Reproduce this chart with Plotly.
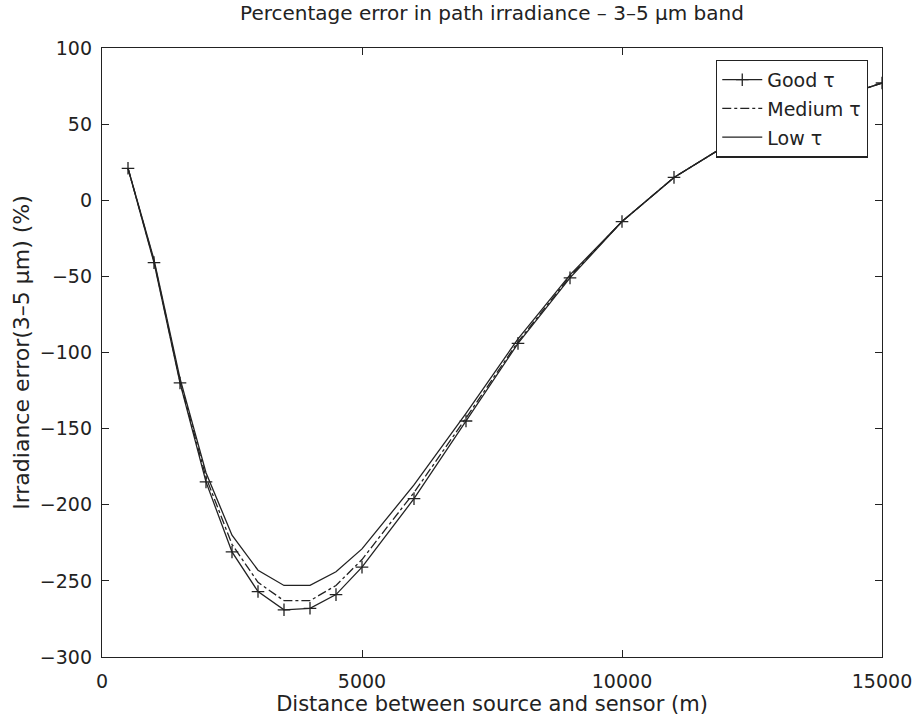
import plotly.graph_objects as go

distance = [500, 1000, 1500, 2000, 2500, 3000, 3500, 4000, 4500, 5000,
            6000, 7000, 8000, 9000, 10000, 11000, 12000, 13000, 14000, 15000]
good_tau = [21, -41, -120, -185, -231, -257, -269, -268, -259, -241,
            -196, -145, -94, -51, -14, 15, 36, 52, 66, 77]
medium_tau = [21, -40, -119, -182, -226, -251, -263, -263, -253, -236,
              -192, -143, -93, -50, -14, 15, 36, 52, 66, 77]
low_tau = [21, -39, -117, -179, -220, -243, -253, -253, -244, -229,
           -187, -140, -91, -49, -14, 15, 36, 52, 66, 77]

xticks = [0, 5000, 10000, 15000]
yticks = [-300, -250, -200, -150, -100, -50, 0, 50, 100]

ink = "#222222"
font = "DejaVu Sans, Liberation Sans, sans-serif"

fig = go.Figure()
fig.add_trace(go.Scatter(x=distance, y=good_tau, name="Good \u03c4",
                         legendgroup="g", mode="lines+markers",
                         line=dict(color=ink, width=1.3),
                         marker=dict(symbol="cross-thin", size=9,
                                     line=dict(color=ink, width=1.3))))
fig.add_trace(go.Scatter(x=distance, y=medium_tau, name="Medium \u03c4",
                         legendgroup="m", mode="lines",
                         line=dict(color=ink, width=1.3, dash="dashdot")))
fig.add_trace(go.Scatter(x=distance, y=low_tau, name="Low \u03c4",
                         legendgroup="l", mode="lines",
                         line=dict(color=ink, width=1.3)))

axis_common = dict(showgrid=False, zeroline=False, showline=True,
                   linecolor=ink, linewidth=1.3, mirror="allticks",
                   ticks="inside", ticklen=7, tickcolor=ink, tickwidth=1,
                   automargin=False,
                   tickfont=dict(family=font, size=19, color=ink))

fig.update_layout(
    width=917, height=722,
    paper_bgcolor="white", plot_bgcolor="white",
    margin=dict(l=102, r=35, t=48, b=65, autoexpand=False),
    font=dict(family=font, color=ink),
    title=dict(text="Percentage error in path irradiance \u2013 3\u20135 \u03bcm band",
               x=(102 + 882) / 2 / 917, xanchor="center",
               y=1 - 13 / 722, yanchor="middle",
               font=dict(family=font, size=20, color=ink)),
    xaxis=dict(range=[0, 15000], tickvals=xticks,
               ticktext=[str(v) for v in xticks], ticklabelstandoff=7,
               title=dict(text="Distance between source and sensor (m)",
                          font=dict(family=font, size=21, color=ink), standoff=4),
               **axis_common),
    yaxis=dict(range=[-300, 100], tickvals=yticks, ticklabelstandoff=5,
               title=dict(text="Irradiance error(3\u20135 \u03bcm) (%)",
                          font=dict(family=font, size=22, color=ink), standoff=4),
               **axis_common),
    legend=dict(x=0.982, y=0.981, xanchor="right", yanchor="top",
                bgcolor="white", bordercolor=ink, borderwidth=1.3,
                font=dict(family=font, size=19, color=ink),
                tracegroupgap=1, itemwidth=40),
    showlegend=True,
)

fig.write_html("out.html")
